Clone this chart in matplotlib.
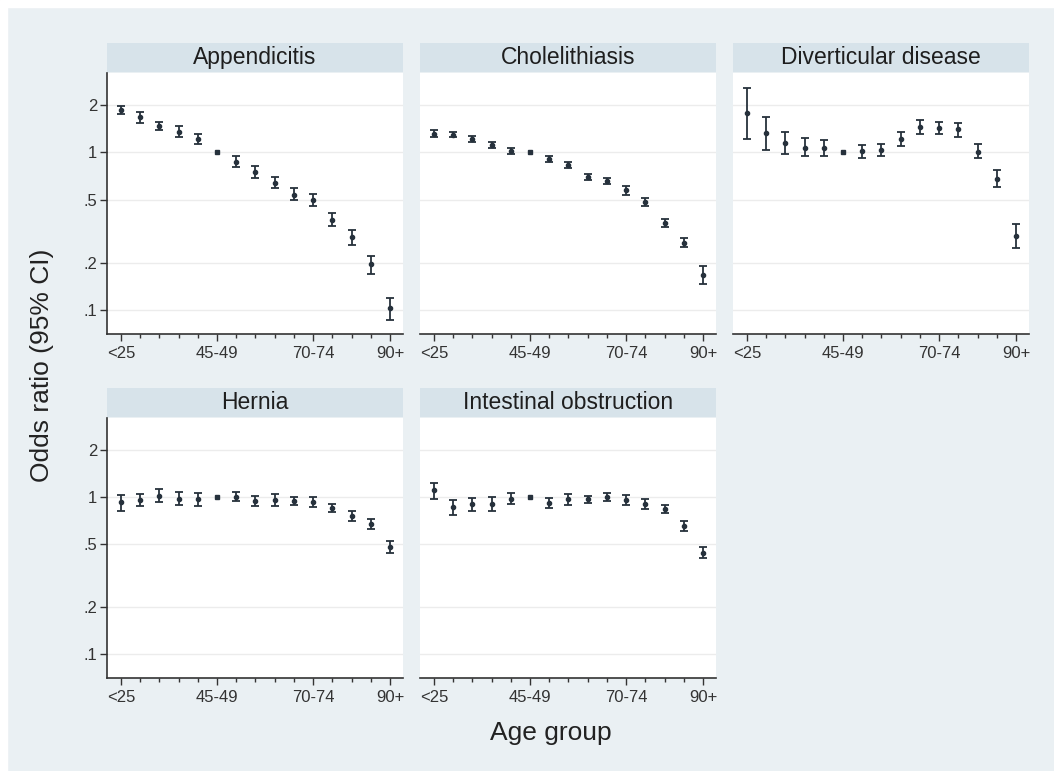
import numpy as np
import matplotlib.pyplot as plt
from matplotlib.patches import Rectangle
from matplotlib.ticker import FixedLocator, NullFormatter

plt.rcParams['font.family'] = ['Liberation Sans', 'DejaVu Sans']

# Grupos de edad
age_groups = ['<25', '25-29', '30-34', '35-39', '40-44', '45-49', '50-54', '55-59',
              '60-64', '65-69', '70-74', '75-79', '80-84', '85-89', '90+']
shown_ticks = ['<25', '45-49', '70-74', '90+']

titles = ['Appendicitis', 'Cholelithiasis', 'Diverticular disease',
          'Hernia', 'Intestinal obstruction']

# Odds ratio e intervalos de confianza
app_or = [1.85, 1.66, 1.47, 1.35, 1.21, 1.0, 0.87, 0.75, 0.64, 0.54, 0.50, 0.37, 0.29, 0.195, 0.103]
app_lo = [1.75, 1.54, 1.39, 1.25, 1.12, 1.0, 0.81, 0.69, 0.59, 0.50, 0.46, 0.34, 0.26, 0.17, 0.087]
app_hi = [1.96, 1.79, 1.56, 1.46, 1.31, 1.0, 0.94, 0.82, 0.70, 0.59, 0.545, 0.41, 0.32, 0.22, 0.12]

cho_or = [1.31, 1.29, 1.21, 1.11, 1.02, 1.0, 0.907, 0.828, 0.698, 0.658, 0.574, 0.483, 0.357, 0.268, 0.167]
cho_lo = [1.24, 1.24, 1.16, 1.06, 0.98, 1.0, 0.87, 0.79, 0.67, 0.63, 0.54, 0.456, 0.337, 0.25, 0.147]
cho_hi = [1.38, 1.35, 1.26, 1.16, 1.07, 1.0, 0.95, 0.866, 0.73, 0.69, 0.61, 0.512, 0.378, 0.288, 0.19]

div_or = [1.77, 1.32, 1.15, 1.07, 1.07, 1.0, 1.02, 1.03, 1.21, 1.45, 1.42, 1.40, 1.01, 0.678, 0.295]
div_lo = [1.21, 1.03, 0.97, 0.94, 0.94, 1.0, 0.916, 0.94, 1.10, 1.30, 1.30, 1.25, 0.916, 0.606, 0.247]
div_hi = [2.56, 1.66, 1.35, 1.23, 1.20, 1.0, 1.11, 1.12, 1.35, 1.60, 1.56, 1.53, 1.13, 0.77, 0.35]

her_or = [0.925, 0.953, 1.02, 0.976, 0.967, 1.0, 1.0, 0.943, 0.953, 0.943, 0.93, 0.852, 0.754, 0.671, 0.483]
her_lo = [0.815, 0.873, 0.934, 0.885, 0.88, 1.0, 0.94, 0.877, 0.88, 0.89, 0.864, 0.80, 0.70, 0.624, 0.438]
her_hi = [1.03, 1.05, 1.12, 1.075, 1.065, 1.0, 1.07, 1.02, 1.04, 1.0, 1.0, 0.907, 0.815, 0.719, 0.527]

int_or = [1.10, 0.864, 0.899, 0.899, 0.976, 1.0, 0.921, 0.967, 0.967, 1.0, 0.953, 0.899, 0.844, 0.652, 0.438]
int_lo = [0.976, 0.765, 0.815, 0.815, 0.899, 1.0, 0.856, 0.894, 0.921, 0.943, 0.886, 0.832, 0.796, 0.609, 0.407]
int_hi = [1.23, 0.962, 0.99, 1.0, 1.06, 1.0, 0.99, 1.04, 1.015, 1.06, 1.025, 0.976, 0.886, 0.705, 0.478]

series = [(app_or, app_lo, app_hi), (cho_or, cho_lo, cho_hi), (div_or, div_lo, div_hi),
          (her_or, her_lo, her_hi), (int_or, int_lo, int_hi)]

yticks = [0.1, 0.2, 0.5, 1, 2]
ytick_labels = ['.1', '.2', '.5', '1', '2']

W, H = 1054, 771
bg = '#eaf0f3'
strip_col = '#d7e3ea'
ink = '#26313c'

fig = plt.figure(figsize=(W / 100, H / 100), dpi=100, facecolor=bg)
# borde blanco arriba e izquierda
fig.patches.append(Rectangle((0, 0), 7 / W, 1, transform=fig.transFigure, color='white', zorder=-1))
fig.patches.append(Rectangle((0, 1 - 7 / H), 1, 7 / H, transform=fig.transFigure, color='white', zorder=-1))

col_x = [107, 420, 733]
pw = 296
rows = [(73, 334, 43), (418, 678, 388)]  # top plot, bottom plot, strip top (px)

x = np.arange(len(age_groups))
major_idx = [age_groups.index(t) for t in shown_ticks]

for k, (vals, lo, hi) in enumerate(series):
    r, c = divmod(k, 3)
    top, bot, stop = rows[r]
    ax = fig.add_axes([col_x[c] / W, 1 - bot / H, pw / W, (bot - top) / H])
    sax = fig.add_axes([col_x[c] / W, 1 - (top - 1) / H, pw / W, (top - 1 - stop) / H])
    sax.set_facecolor(strip_col)
    sax.set_xticks([])
    sax.set_yticks([])
    for s in sax.spines.values():
        s.set_visible(False)
    sax.text(0.5, 0.5, titles[k], ha='center', va='center', fontsize=16.5, color='#1e1e1e',
             transform=sax.transAxes)

    vals = np.array(vals)
    lo = np.array(lo)
    hi = np.array(hi)
    m = lo != hi
    ax.errorbar(x[m], vals[m], yerr=[vals[m] - lo[m], hi[m] - vals[m]], fmt='o', ms=3,
                color=ink, ecolor=ink, elinewidth=1.3, capsize=3.2, capthick=1.3, zorder=3)
    ax.plot(x[~m], vals[~m], 's', ms=2.5, color=ink, zorder=3)

    ax.set_yscale('log')
    ax.set_ylim(0.0708, 3.17)
    ax.set_xlim(-0.73, 14.68)
    ax.yaxis.set_major_locator(FixedLocator(yticks))
    ax.yaxis.set_minor_locator(FixedLocator([]))
    ax.yaxis.set_minor_formatter(NullFormatter())
    ax.grid(axis='y', color='#ececec', lw=1.0, zorder=0)

    ax.set_xticks(major_idx)
    ax.set_xticklabels(shown_ticks, fontsize=12, color='#333333')
    ax.set_xticks(x, minor=True)
    ax.tick_params(axis='x', which='major', length=5, width=1.0, pad=3.5, color='#333333')
    ax.tick_params(axis='x', which='minor', length=3, width=1.0, color='#333333')

    for s in ['top', 'right']:
        ax.spines[s].set_visible(False)
    ax.spines['bottom'].set_color('#333333')
    ax.spines['bottom'].set_linewidth(1.2)
    if c == 0:
        ax.spines['left'].set_color('#333333')
        ax.spines['left'].set_linewidth(1.2)
        ax.set_yticklabels(ytick_labels, fontsize=12, color='#333333')
        ax.tick_params(axis='y', length=5, width=1.0, pad=2, color='#333333')
    else:
        ax.spines['left'].set_visible(False)
        ax.tick_params(axis='y', length=0, labelleft=False)

fig.text(42 / W, 1 - 365 / H, 'Odds ratio (95% CI)', rotation=90, ha='center', va='center',
         fontsize=19, color='#222222')
fig.text(551 / W, 1 - 733 / H, 'Age group', ha='center', va='center', fontsize=19, color='#222222')

fig.savefig('out.png', dpi=100, facecolor=bg)
